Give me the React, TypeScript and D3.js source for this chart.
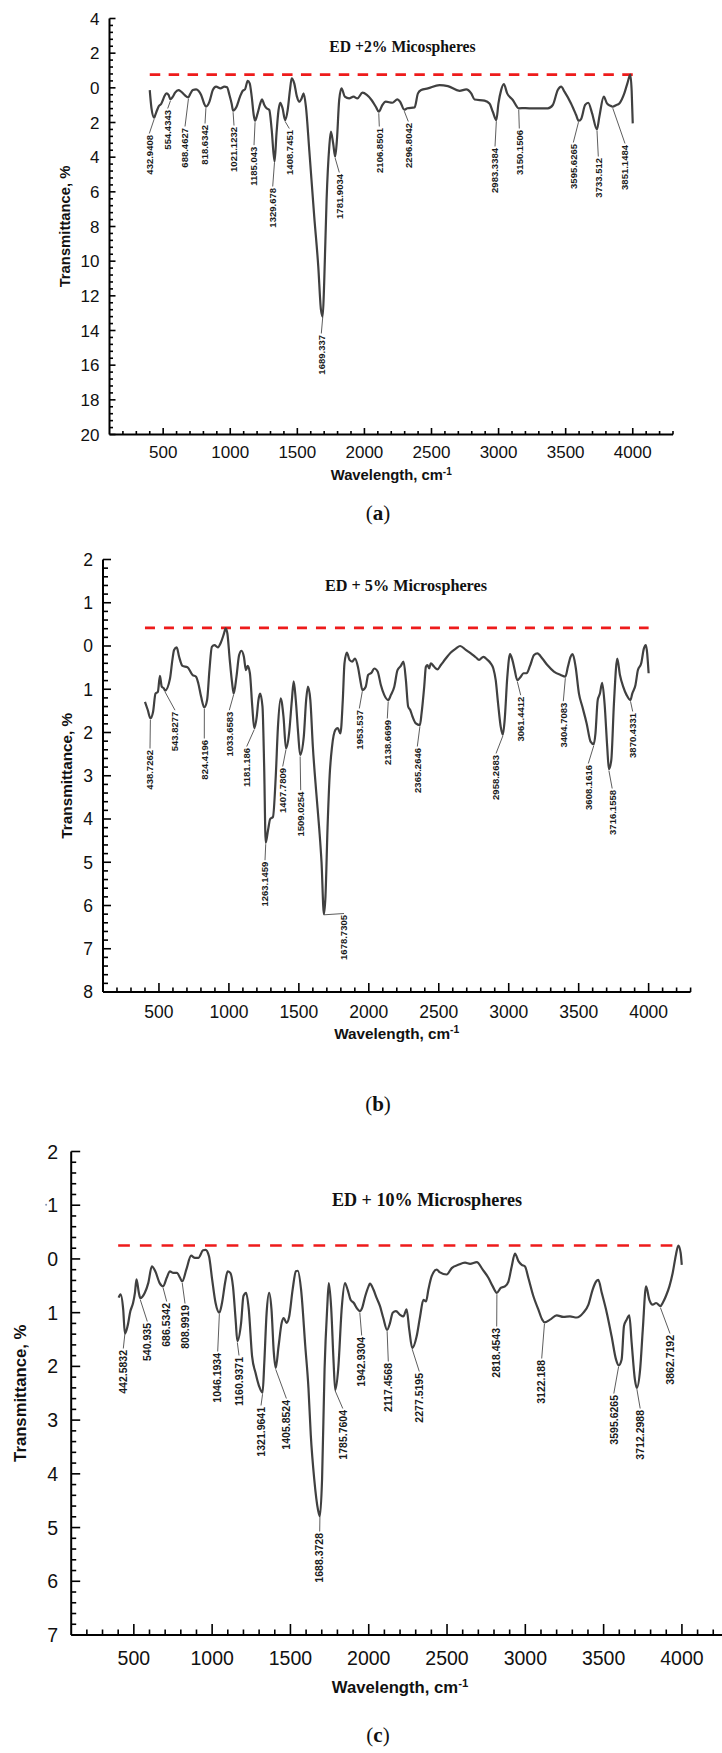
import React from "react";
import * as d3 from "d3";

const WIDTH = 722;
const HEIGHT = 1753;

const SANS = "'Liberation Sans', Arial, Helvetica, sans-serif";
const SERIF = "'Liberation Serif', 'Times New Roman', serif";

// Shared wavenumber axis (cm-1)
const X_DOMAIN: [number, number] = [100, 4300];
const X_TICK_LABELS = [500, 1000, 1500, 2000, 2500, 3000, 3500, 4000];
const X_MINOR_TICKS = d3.range(200, 4301, 100);

// ---------- (a) ED + 2% microspheres ----------
const WN_A = [
  400, 413, 433, 441, 455, 468, 485, 498, 510, 525, 540, 554, 572, 589, 614, 634, 659, 688, 700, 721,
  746, 763, 783, 805, 819, 845, 870, 894, 927, 956, 976, 994, 1011, 1021, 1045, 1073, 1093, 1110, 1130, 1145,
  1160, 1175, 1185, 1204, 1224, 1236, 1254, 1271, 1291, 1309, 1330, 1345, 1360, 1373, 1390, 1409, 1428, 1445, 1458, 1477,
  1497, 1514, 1532, 1547, 1564, 1589, 1626, 1656, 1676, 1689, 1700, 1718, 1738, 1750, 1767, 1782, 1795, 1812, 1829, 1854,
  1886, 1919, 1948, 1986, 2018, 2053, 2085, 2107, 2134, 2159, 2209, 2246, 2266, 2297, 2320, 2374, 2399, 2423, 2473, 2560,
  2622, 2709, 2759, 2796, 2821, 2895, 2932, 2957, 2983, 2999, 3019, 3039, 3064, 3106, 3150, 3200, 3260, 3320, 3367, 3404,
  3441, 3466, 3491, 3540, 3578, 3596, 3615, 3645, 3668, 3697, 3733, 3751, 3784, 3808, 3830, 3851, 3875, 3900, 3937, 3960,
  3982, 3992, 4000,
];
const T_A = [
  0.13, 1.18, 1.72, 1.57, 1.28, 1.05, 0.93, 0.7, 0.47, 0.32, 0.41, 0.66, 0.51, 0.28, 0.13, 0.22, 0.41, 0.55, 0.38, 0.13,
  0.09, 0.17, 0.41, 0.9, 1.09, 0.8, 0.13, -0.07, 0.03, -0.07, -0.03, 0.41, 0.93, 1.32, 1.12, 0.51, 0.17, 0.09, -0.41, -0.26,
  0.51, 1.57, 1.9, 1.47, 0.9, 0.66, 0.99, 1.18, 1.28, 2.43, 4.26, 2.6, 1.28, 0.86, 1.18, 1.86, 1.28, 0.13, -0.55, -0.26,
  0.51, 0.8, 0.61, 0.32, 1.09, 3.59, 7.43, 10.3, 12.8, 13.2, 11.28, 6.47, 3.4, 2.53, 3.2, 3.97, 3.01, 0.7, 0.03, 0.51,
  0.61, 0.51, 0.61, 0.28, 0.41, 0.7, 1.09, 1.38, 0.99, 0.8, 0.86, 0.67, 0.8, 1.26, 1.18, 1.13, 0.32, 0.13, 0.03, -0.16,
  -0.1, 0.17, 0.09, 0.32, 0.67, 0.74, 0.9, 1.38, 1.86, 0.9, 0.13, -0.22, 0.32, 0.7, 1.18, 1.17, 1.19, 1.18, 1.18, 0.99,
  0.13, -0.07, 0.22, 0.9, 1.57, 1.9, 1.8, 0.99, 0.86, 1.47, 2.4, 1.67, 0.51, 0.9, 1.02, 1.09, 1.0, 0.9, 0.32, -0.26,
  -0.76, 0.2, 2.05,
];
const PEAKS_A = [
  "432.9408", "554.4343", "688.4627", "818.6342", "1021.1232", "1185.043", "1329.678", "1408.7451", "1689.337",
  "1781.9034", "2106.8501", "2296.8042", "2983.3384", "3150.1506", "3595.6265", "3733.512", "3851.1484",
];
const Y_TICKS_A = d3.range(-4, 21, 2);
const Y_MINOR_A = d3.range(0, 61).map((i) => -4 + i * 0.4);
const BASELINE_A = -0.76;

// ---------- (b) ED + 5% microspheres ----------
const WN_B = [
  400, 420, 439, 458, 475, 492, 507, 520, 535, 544, 579, 596, 608, 627, 644, 668, 704, 740, 765, 781,
  801, 824, 844, 861, 878, 897, 921, 945, 965, 977, 989, 1006, 1023, 1034, 1054, 1073, 1090, 1107, 1122, 1134,
  1150, 1167, 1181, 1199, 1211, 1223, 1240, 1252, 1263, 1280, 1295, 1315, 1335, 1350, 1370, 1390, 1408, 1430, 1450, 1463,
  1478, 1495, 1509, 1535, 1552, 1565, 1582, 1600, 1625, 1645, 1662, 1679, 1690, 1705, 1720, 1737, 1761, 1778, 1797, 1814,
  1826, 1843, 1862, 1881, 1901, 1922, 1939, 1954, 1978, 1995, 2019, 2039, 2063, 2086, 2110, 2139, 2158, 2182, 2205, 2229,
  2248, 2265, 2281, 2296, 2312, 2336, 2365, 2377, 2396, 2408, 2419, 2431, 2443, 2467, 2491, 2515, 2550, 2586, 2622, 2653,
  2693, 2729, 2764, 2788, 2819, 2848, 2871, 2890, 2907, 2924, 2943, 2958, 2971, 2990, 3009, 3026, 3043, 3061, 3086, 3105,
  3128, 3152, 3181, 3205, 3240, 3276, 3323, 3371, 3405, 3423, 3442, 3457, 3478, 3502, 3526, 3557, 3585, 3608, 3620, 3636,
  3652, 3668, 3685, 3704, 3716, 3733, 3752, 3776, 3795, 3818, 3842, 3870, 3883, 3906, 3923, 3947, 3966, 3980, 4000,
];
const T_B = [
  1.29, 1.48, 1.67, 1.52, 1.1, 1.06, 0.69, 0.94, 0.98, 1.03, 0.75, 0.32, 0.09, 0.03, 0.25, 0.46, 0.49, 0.67, 0.71, 0.86,
  1.17, 1.42, 1.25, 0.55, 0.02, -0.02, 0.03, -0.1, -0.29, -0.41, -0.29, 0.32, 0.86, 1.1, 0.71, 0.21, 0.11, 0.25, 0.56, 0.46,
  0.63, 1.4, 1.9, 1.63, 1.25, 1.1, 1.4, 2.8, 4.55, 4.25, 4.0, 3.95, 3.0, 1.9, 1.21, 1.63, 2.37, 2.02, 1.25, 0.82,
  1.25, 2.02, 2.52, 2.1, 1.25, 0.94, 1.25, 2.33, 3.41, 4.2, 5.0, 6.2, 5.8, 4.2, 3.0, 2.33, 1.94, 1.9, 2.02, 1.25,
  0.4, 0.15, 0.32, 0.36, 0.29, 0.48, 0.79, 1.02, 0.94, 0.67, 0.62, 0.52, 0.59, 0.9, 1.13, 1.25, 1.13, 0.94, 0.56, 0.46,
  0.36, 0.79, 1.4, 1.48, 1.63, 1.79, 1.83, 1.56, 0.94, 0.48, 0.44, 0.52, 0.4, 0.48, 0.54, 0.44, 0.29, 0.15, 0.06, 0.0,
  0.09, 0.17, 0.26, 0.32, 0.25, 0.32, 0.4, 0.52, 0.79, 1.33, 1.87, 2.05, 1.71, 0.71, 0.19, 0.32, 0.56, 0.79, 0.71, 0.63,
  0.63, 0.46, 0.21, 0.17, 0.29, 0.44, 0.59, 0.67, 0.71, 0.48, 0.25, 0.19, 0.48, 1.1, 1.4, 1.79, 2.21, 2.27, 2.02, 1.25,
  1.1, 0.85, 1.33, 2.33, 2.85, 2.64, 1.33, 0.29, 0.67, 0.94, 1.13, 1.25, 1.1, 0.9, 0.56, 0.4, 0.06, -0.02, 0.63,
];
const PEAKS_B = [
  "438.7262", "543.8277", "824.4196", "1033.6583", "1181.186", "1263.1459", "1407.7809", "1509.0254", "1678.7305",
  "1953.537", "2138.6699", "2365.2646", "2958.2683", "3061.4412", "3404.7083", "3608.1616", "3716.1558", "3870.4331",
];
const Y_TICKS_B = d3.range(-2, 9, 1);
const Y_MINOR_B = d3.range(0, 51).map((i) => -2 + i * 0.2);
const BASELINE_B = -0.42;

// ---------- (c) ED + 10% microspheres ----------
const WN_C = [
  403, 415, 432, 443, 460, 478, 495, 507, 517, 532, 541, 570, 592, 615, 637, 665, 687, 710, 730, 752,
  775, 795, 809, 835, 866, 890, 912, 942, 958, 980, 1000, 1022, 1046, 1063, 1084, 1099, 1116, 1133, 1150, 1161,
  1185, 1200, 1217, 1234, 1255, 1277, 1300, 1322, 1333, 1348, 1364, 1379, 1394, 1406, 1424, 1444, 1457, 1475, 1492, 1514,
  1535, 1547, 1568, 1595, 1615, 1630, 1652, 1676, 1688, 1702, 1718, 1735, 1745, 1760, 1775, 1786, 1805, 1828, 1848, 1865,
  1884, 1905, 1925, 1943, 1958, 1978, 1999, 2008, 2030, 2051, 2072, 2093, 2117, 2136, 2153, 2174, 2200, 2221, 2242, 2259,
  2278, 2306, 2328, 2349, 2366, 2381, 2402, 2434, 2455, 2498, 2530, 2572, 2615, 2647, 2690, 2728, 2764, 2792, 2818, 2843,
  2870, 2892, 2913, 2934, 2956, 2977, 2998, 3019, 3051, 3083, 3108, 3122, 3158, 3200, 3243, 3285, 3328, 3371, 3403, 3430,
  3452, 3466, 3488, 3520, 3551, 3579, 3596, 3615, 3630, 3647, 3664, 3679, 3700, 3712, 3733, 3750, 3771, 3792, 3813, 3835,
  3863, 3877, 3898, 3920, 3941, 3962, 3977, 3992, 3999,
];
const T_C = [
  0.72, 0.66, 0.94, 1.39, 1.25, 0.97, 0.82, 0.63, 0.38, 0.63, 0.73, 0.63, 0.45, 0.14, 0.23, 0.45, 0.51, 0.35, 0.23, 0.26,
  0.26, 0.35, 0.42, 0.2, -0.06, -0.02, -0.02, -0.16, -0.17, -0.05, 0.38, 0.82, 1.0, 0.82, 0.42, 0.23, 0.26, 0.51, 1.13, 1.53,
  1.19, 0.69, 0.63, 0.94, 1.81, 2.12, 2.37, 2.49, 1.94, 1.0, 0.63, 0.94, 1.75, 2.03, 1.63, 1.19, 1.1, 1.19, 1.07, 0.57,
  0.23, 0.22, 0.57, 1.63, 2.4, 3.28, 4.1, 4.67, 4.79, 4.1, 2.05, 0.9, 0.45, 0.9, 1.88, 2.44, 2.05, 0.9, 0.45, 0.57,
  0.76, 0.82, 0.92, 0.97, 0.91, 0.69, 0.51, 0.46, 0.57, 0.73, 0.88, 1.1, 1.32, 1.19, 1.0, 0.97, 1.04, 1.07, 0.94, 1.32,
  1.66, 1.44, 1.07, 0.76, 0.79, 0.57, 0.32, 0.2, 0.25, 0.29, 0.17, 0.11, 0.07, 0.09, 0.06, 0.2, 0.35, 0.51, 0.63, 0.54,
  0.51, 0.42, 0.14, -0.1, 0.04, 0.11, 0.14, 0.35, 0.69, 0.94, 1.13, 1.18, 1.13, 1.05, 1.08, 1.07, 1.09, 1.0, 0.85, 0.57,
  0.42, 0.39, 0.63, 1.0, 1.44, 1.87, 1.98, 1.87, 1.25, 1.13, 1.05, 1.56, 2.25, 2.4, 2.06, 1.32, 0.51, 0.76, 0.85, 0.82,
  0.88, 0.82, 0.69, 0.51, 0.26, -0.08, -0.25, -0.11, 0.11,
];
const PEAKS_C = [
  "442.5832", "540.935", "686.5342", "808.9919", "1046.1934", "1160.9371", "1321.9641", "1405.8524", "1688.3728",
  "1785.7604", "1942.9304", "2117.4568", "2277.5195", "2818.4543", "3122.188", "3595.6265", "3712.2988", "3862.7192",
];
const Y_TICKS_C = d3.range(-2, 8, 1);
const Y_MINOR_C = d3.range(0, 46).map((i) => -2 + i * 0.2);
const BASELINE_C = -0.25;

// Where each peak's rotated caption sits: [centre x, top y] in page pixels
const PEAK_TEXT_A = [
  [149.3, 135], [167.7, 110], [185, 128], [205, 125], [234, 127], [254, 146.7], [272.7, 188], [289.3, 130], [321.3, 335],
  [339.3, 174], [379.3, 128], [408.3, 123], [495, 148], [519.3, 130], [573.3, 144], [598.3, 158], [625, 145],
];
const PEAK_TEXT_B = [
  [150, 750], [175, 711.7], [204.3, 740], [229.3, 711.7], [246.7, 748], [265, 861.7], [282.7, 768], [300.7, 791.7],
  [344, 915], [359.3, 710], [387.3, 720], [417.3, 748], [496, 755], [520.7, 696.7], [563.3, 702.7], [588.3, 765],
  [612.2, 790], [632.7, 713],
];
const PEAK_TEXT_C = [
  [123.3, 1350], [147.3, 1323], [166.7, 1303], [185, 1305], [217.7, 1353], [239, 1357], [261, 1407], [286.4, 1400],
  [319.7, 1533], [342.8, 1410], [361.7, 1337], [388.3, 1363], [419.3, 1373], [496.7, 1328], [541.7, 1360],
  [613.8, 1395], [640.2, 1410], [670, 1335],
];

type Layout = {
  x0: number; x1: number; yTop: number; yBottom: number;
  tickFont: number; yLabelGap: number; xLabelDy: number;
  yMajorLen: number; yMinorLen: number; xMajorLen: number; xMinorLen: number;
  axisTitleFont: number; xTitleY: number; yTitleX: number;
  titleX: number; titleY: number; titleFont: number;
  captionY: number; peakFont: number; dash: string;
};

type Spec = {
  wn: number[]; t: number[]; peaks: string[]; peakText: number[][];
  yDomain: [number, number]; yTicks: number[]; yMinor: number[];
  baseline: number; title: string; caption: string; faintMinus?: number;
  layout: Layout;
};

const PANELS: Spec[] = [
  {
    wn: WN_A, t: T_A, peaks: PEAKS_A, peakText: PEAK_TEXT_A,
    yDomain: [-4, 20], yTicks: Y_TICKS_A, yMinor: Y_MINOR_A, baseline: BASELINE_A,
    title: "ED +2% Micospheres", caption: "a",
    layout: {
      x0: 109.5, x1: 673, yTop: 18.5, yBottom: 434.5,
      tickFont: 17, yLabelGap: 10, xLabelDy: 17.5,
      yMajorLen: 6, yMinorLen: 3.5, xMajorLen: 6.5, xMinorLen: 3.5,
      axisTitleFont: 14.8, xTitleY: 475, yTitleX: 64.6,
      titleX: 402.5, titleY: 47, titleFont: 15.7,
      captionY: 513, peakFont: 9.5, dash: "10.5 8.4",
    },
  },
  {
    wn: WN_B, t: T_B, peaks: PEAKS_B, peakText: PEAK_TEXT_B,
    yDomain: [-2, 8], yTicks: Y_TICKS_B, yMinor: Y_MINOR_B, baseline: BASELINE_B,
    title: "ED + 5% Microspheres", caption: "b",
    layout: {
      x0: 103, x1: 690.6, yTop: 559.5, yBottom: 992,
      tickFont: 17.5, yLabelGap: 10, xLabelDy: 20,
      yMajorLen: 8, yMinorLen: 5, xMajorLen: 9, xMinorLen: 4.5,
      axisTitleFont: 15.3, xTitleY: 1033, yTitleX: 66,
      titleX: 406, titleY: 585, titleFont: 16.2,
      captionY: 1104, peakFont: 9.5, dash: "10 9",
    },
  },
  {
    wn: WN_C, t: T_C, peaks: PEAKS_C, peakText: PEAK_TEXT_C,
    yDomain: [-2, 7], yTicks: Y_TICKS_C, yMinor: Y_MINOR_C, baseline: BASELINE_C,
    title: "ED + 10% Microspheres", caption: "c", faintMinus: -1,
    layout: {
      x0: 71.2, x1: 728.9, yTop: 1151.5, yBottom: 1635,
      tickFont: 19.5, yLabelGap: 13, xLabelDy: 23,
      yMajorLen: 9, yMinorLen: 5, xMajorLen: 11, xMinorLen: 5.5,
      axisTitleFont: 16.7, xTitleY: 1687, yTitleX: 20,
      titleX: 427, titleY: 1200, titleFont: 18.1,
      captionY: 1735, peakFont: 10.5, dash: "11.7 10",
    },
  },
];

function Panel({ spec }: { spec: Spec }) {
  const L = spec.layout;
  const x = d3.scaleLinear().domain(X_DOMAIN).range([L.x0, L.x1]);
  const y = d3.scaleLinear().domain(spec.yDomain).range([L.yTop, L.yBottom]);
  const n = spec.wn.length;

  const line = d3
    .line<number>()
    .x((i) => x(spec.wn[i]))
    .y((i) => y(spec.t[i]))
    .curve(d3.curveMonotoneX);
  const path = line(d3.range(n)) || "";

  // transmittance of the spectrum at an arbitrary wavenumber
  const valueAt = (w: number) => {
    const i = d3.bisectLeft(spec.wn, w);
    if (i <= 0) return spec.t[0];
    if (i >= n) return spec.t[n - 1];
    const w0 = spec.wn[i - 1];
    const w1 = spec.wn[i];
    return spec.t[i - 1] + ((spec.t[i] - spec.t[i - 1]) * (w - w0)) / (w1 - w0);
  };

  const xMajorSet = new Set(X_TICK_LABELS);
  const yMajorSet = new Set(spec.yTicks.map((v) => Math.round(v * 100)));
  const yBottom = y(spec.yDomain[1]);
  const yTop = y(spec.yDomain[0]);
  const xLeft = x(X_DOMAIN[0]);
  const xRight = x(X_DOMAIN[1]);

  return (
    <g>
      {/* reference level */}
      <line
        x1={x(400)} x2={x(4000)} y1={y(spec.baseline)} y2={y(spec.baseline)}
        stroke="#ee1b1b" strokeWidth={2.6} strokeDasharray={L.dash}
      />

      {/* spectrum */}
      <path d={path} fill="none" stroke="#404040" strokeWidth={2.2} strokeLinejoin="round" />

      {/* peak captions */}
      {spec.peaks.map((p, i) => {
        const w = parseFloat(p);
        const px = x(w);
        const py = y(valueAt(w));
        const [cx, top] = spec.peakText[i];
        return (
          <g key={p}>
            <line x1={px} y1={py + 1.5} x2={cx} y2={top - 1.5} stroke="#333" strokeWidth={0.8} />
            <text
              transform={`translate(${cx},${top}) rotate(-90)`}
              textAnchor="end" dy="0.36em"
              fontFamily={SANS} fontWeight="bold" fontSize={L.peakFont} fill="#1a1a1a"
            >
              {p}
            </text>
          </g>
        );
      })}

      {/* y axis */}
      <line x1={xLeft} x2={xLeft} y1={yTop} y2={yBottom} stroke="#000" strokeWidth={2} />
      {spec.yMinor.map((v) => {
        const major = yMajorSet.has(Math.round(v * 100));
        return (
          <line
            key={`ym${v}`} x1={xLeft} x2={xLeft + (major ? L.yMajorLen : L.yMinorLen)}
            y1={y(v)} y2={y(v)} stroke="#000" strokeWidth={1.6}
          />
        );
      })}
      {spec.yTicks.map((v) => (
        <text
          key={`yl${v}`} x={xLeft - L.yLabelGap} y={y(v)} dy="0.36em" textAnchor="end"
          fontFamily={SANS} fontSize={L.tickFont} fill="#111"
        >
          {Math.abs(v)}
        </text>
      ))}
      {spec.faintMinus !== undefined && (
        <circle
          cx={xLeft - L.yLabelGap - L.tickFont * 0.62} cy={y(spec.faintMinus) - 0.5} r={1}
          fill="#8796b4"
        />
      )}

      {/* x axis */}
      <line x1={xLeft} x2={xRight} y1={yBottom} y2={yBottom} stroke="#000" strokeWidth={2} />
      {X_MINOR_TICKS.map((v) => {
        const major = xMajorSet.has(v);
        return (
          <line
            key={`xm${v}`} x1={x(v)} x2={x(v)} y1={yBottom}
            y2={yBottom - (major ? L.xMajorLen : L.xMinorLen)} stroke="#000" strokeWidth={1.6}
          />
        );
      })}
      {X_TICK_LABELS.map((v) => (
        <text
          key={`xl${v}`} x={x(v)} y={yBottom + L.xLabelDy} dy="0.36em" textAnchor="middle"
          fontFamily={SANS} fontSize={L.tickFont} fill="#111"
        >
          {v}
        </text>
      ))}

      {/* axis titles */}
      <text
        x={(xLeft + xRight) / 2} y={L.xTitleY} dy="0.36em" textAnchor="middle"
        fontFamily={SANS} fontWeight="bold" fontSize={L.axisTitleFont} fill="#111"
      >
        Wavelength, cm
        <tspan dy="-0.55em" fontSize="0.68em">-1</tspan>
      </text>
      <text
        transform={`translate(${L.yTitleX},${(yTop + yBottom) / 2}) rotate(-90)`}
        textAnchor="middle" dy="0.36em"
        fontFamily={SANS} fontWeight="bold" fontSize={L.axisTitleFont} fill="#111"
      >
        Transmittance, %
      </text>

      {/* panel title */}
      <text
        x={L.titleX} y={L.titleY} dy="0.35em" textAnchor="middle"
        fontFamily={SERIF} fontWeight="bold" fontSize={L.titleFont} fill="#111"
      >
        {spec.title}
      </text>

      {/* sub-figure caption */}
      <text x={378} y={L.captionY} dy="0.35em" textAnchor="middle" fontFamily={SERIF} fontSize={21} fill="#111">
        (<tspan fontWeight="bold">{spec.caption}</tspan>)
      </text>
    </g>
  );
}

export default function App() {
  return (
    <svg
      width={WIDTH}
      height={HEIGHT}
      viewBox={`0 0 ${WIDTH} ${HEIGHT}`}
      style={{ position: "absolute", left: 0, top: 0, background: "#fff", display: "block" }}
    >
      <rect width={WIDTH} height={HEIGHT} fill="#fff" />
      {PANELS.map((p) => (
        <Panel key={p.caption} spec={p} />
      ))}
    </svg>
  );
}
